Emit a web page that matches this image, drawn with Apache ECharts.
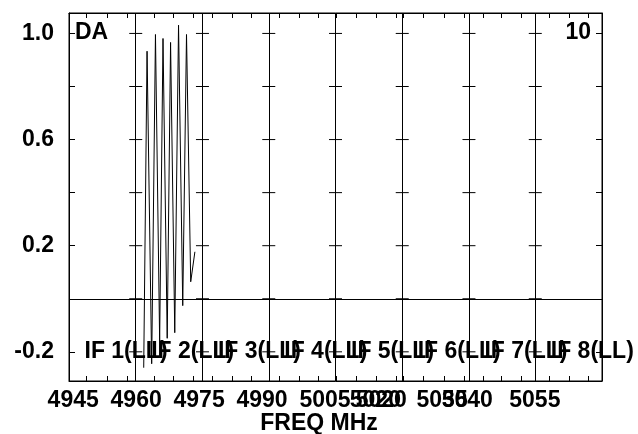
<!DOCTYPE html>
<html>
<head>
<meta charset="utf-8">
<script src="https://cdn.jsdelivr.net/npm/echarts@6/dist/echarts.min.js"></script>
<style>html,body{margin:0;padding:0;background:#fff}#c{width:638px;height:434px}</style>
</head>
<body>
<div id="c"></div>
<script>
// IF panel edges (MHz)
const ifEdges = [4944, 4959.9, 4975.8, 4991.6, 5007.5, 5023.4, 5039.3, 5055.1, 5071];
const ifNames = ['IF 1(LL)', 'IF 2(LL)', 'IF 3(LL)', 'IF 4(LL)', 'IF 5(LL)', 'IF 6(LL)', 'IF 7(LL)', 'IF 8(LL)'];
// spectrum
const freq = [4961.8, 4962.6, 4963.7, 4964.6, 4965.6, 4966.4, 4967.4, 4968.2, 4969.2, 4970.1, 4971.1, 4972.0, 4973.0, 4974.0];
const amp  = [-0.26, 0.933, -0.245, 0.996, -0.159, 0.981, -0.149, 0.966, -0.128, 1.031, -0.026, 0.996, 0.064, 0.177];
// axis ticks and labels
const yTickVals = [-0.2, 0, 0.2, 0.4, 0.6, 0.8, 1.0];
const yLabelVals = [-0.2, 0.2, 0.6, 1.0];
const xTickVals = [4948.2, 4953.0, 4957.8, 4964.3, 4968.9, 4973.5, 4978.2, 4982.9, 4987.5, 4994.0, 4998.8, 5003.3, 5007.7, 5012.5, 5017.3, 5022.0, 5023.6, 5028.4, 5033.3, 5038.1, 5042.6, 5047.1, 5051.7, 5058.5, 5063.1, 5067.7];
const xLabelVals = [4945, 4960, 4975, 4990, 5005, 5017, 5018.4, 5032.9, 5038.9, 5055];
const xLabelText = ['4945', '4960', '4975', '4990', '5005', '5020', '5020', '5035', '5040', '5055'];

const FONT = '"Liberation Sans", Arial, Helvetica, sans-serif';
const FS = 23;
const chart = echarts.init(document.getElementById('c'), null, {renderer: 'canvas'});

const interior = ifEdges.slice(1, ifEdges.length - 1);
const crossTicks = [];
interior.forEach(e => yTickVals.forEach(v => crossTicks.push([e, v])));
const ifLabelData = ifNames.map((n, i) => [ifEdges[i], -0.2, n]);

const txt = {fontFamily: FONT, fontWeight: 'bold', fontSize: FS, color: '#000'};

const option = {
  animation: false,
  backgroundColor: '#fff',
  title: [
    {text: 'DA', left: 75, top: 21, padding: 0, textStyle: txt},
    {text: '10', right: 47, top: 21, padding: 0, textStyle: txt},
    {text: 'FREQ MHz', left: 'center', top: 412, padding: 0, textStyle: txt}
  ],
  grid: {left: 69, top: 13, width: 533, height: 368, show: true, borderColor: '#000', borderWidth: 1, backgroundColor: 'transparent', outerBoundsMode: 'none'},
  xAxis: [
    {
      type: 'value', min: ifEdges[0], max: ifEdges[ifEdges.length - 1], position: 'bottom',
      axisLine: {show: true, onZero: false, lineStyle: {color: '#000', width: 1}},
      axisTick: {show: true, inside: true, length: 5, customValues: xTickVals, lineStyle: {color: '#000'}},
      axisLabel: Object.assign({
        show: true, customValues: xLabelVals, margin: 8,
        formatter: v => { const i = xLabelVals.findIndex(p => Math.abs(p - v) < 1e-6); return i >= 0 ? xLabelText[i] : ''; }
      }, txt),
      splitLine: {show: false}
    },
    {
      type: 'value', min: ifEdges[0], max: ifEdges[ifEdges.length - 1], position: 'top',
      axisLine: {show: true, onZero: false, lineStyle: {color: '#000', width: 1}},
      axisTick: {show: true, inside: true, length: 5, customValues: xTickVals, lineStyle: {color: '#000'}},
      axisLabel: {show: false},
      splitLine: {show: false}
    }
  ],
  yAxis: [
    {
      type: 'value', min: -0.31, max: 1.077, position: 'left',
      axisLine: {show: true, onZero: false, lineStyle: {color: '#000', width: 1}},
      axisTick: {show: true, inside: true, length: 6, customValues: yTickVals, lineStyle: {color: '#000'}},
      axisLabel: Object.assign({
        show: true, customValues: yLabelVals, margin: 15,
        formatter: v => v.toFixed(1)
      }, txt),
      splitLine: {show: false}
    },
    {
      type: 'value', min: -0.31, max: 1.077, position: 'right',
      axisLine: {show: true, onZero: false, lineStyle: {color: '#000', width: 1}},
      axisTick: {show: true, inside: true, length: 6, customValues: yTickVals, lineStyle: {color: '#000'}},
      axisLabel: {show: false},
      splitLine: {show: false}
    }
  ],
  series: [
    {
      type: 'scatter', name: 'ticks', silent: true, symbol: 'rect', symbolSize: [13, 1],
      itemStyle: {color: '#000', opacity: 1}, data: crossTicks, z: 3,
      markLine: {
        silent: true, symbol: 'none', label: {show: false},
        lineStyle: {color: '#000', width: 1, type: 'solid', opacity: 1},
        emphasis: {disabled: true},
        data: interior.map(e => ({xAxis: e})).concat([{yAxis: 0}])
      }
    },
    {
      type: 'scatter', name: 'iflabels', silent: true, symbolSize: 1,
      itemStyle: {color: 'rgba(0,0,0,0)', opacity: 1},
      data: ifLabelData, z: 4,
      labelLayout: {hideOverlap: false},
      label: Object.assign({
        show: true, position: 'right', distance: 15,
        formatter: p => p.value[2]
      }, txt)
    },
    {
      type: 'line', name: 'DA', showSymbol: false, symbol: 'none', silent: true,
      data: freq.map((f, i) => [f, amp[i]]),
      lineStyle: {color: '#000', width: 1}, z: 5
    }
  ]
};
chart.setOption(option);
</script>
</body>
</html>
